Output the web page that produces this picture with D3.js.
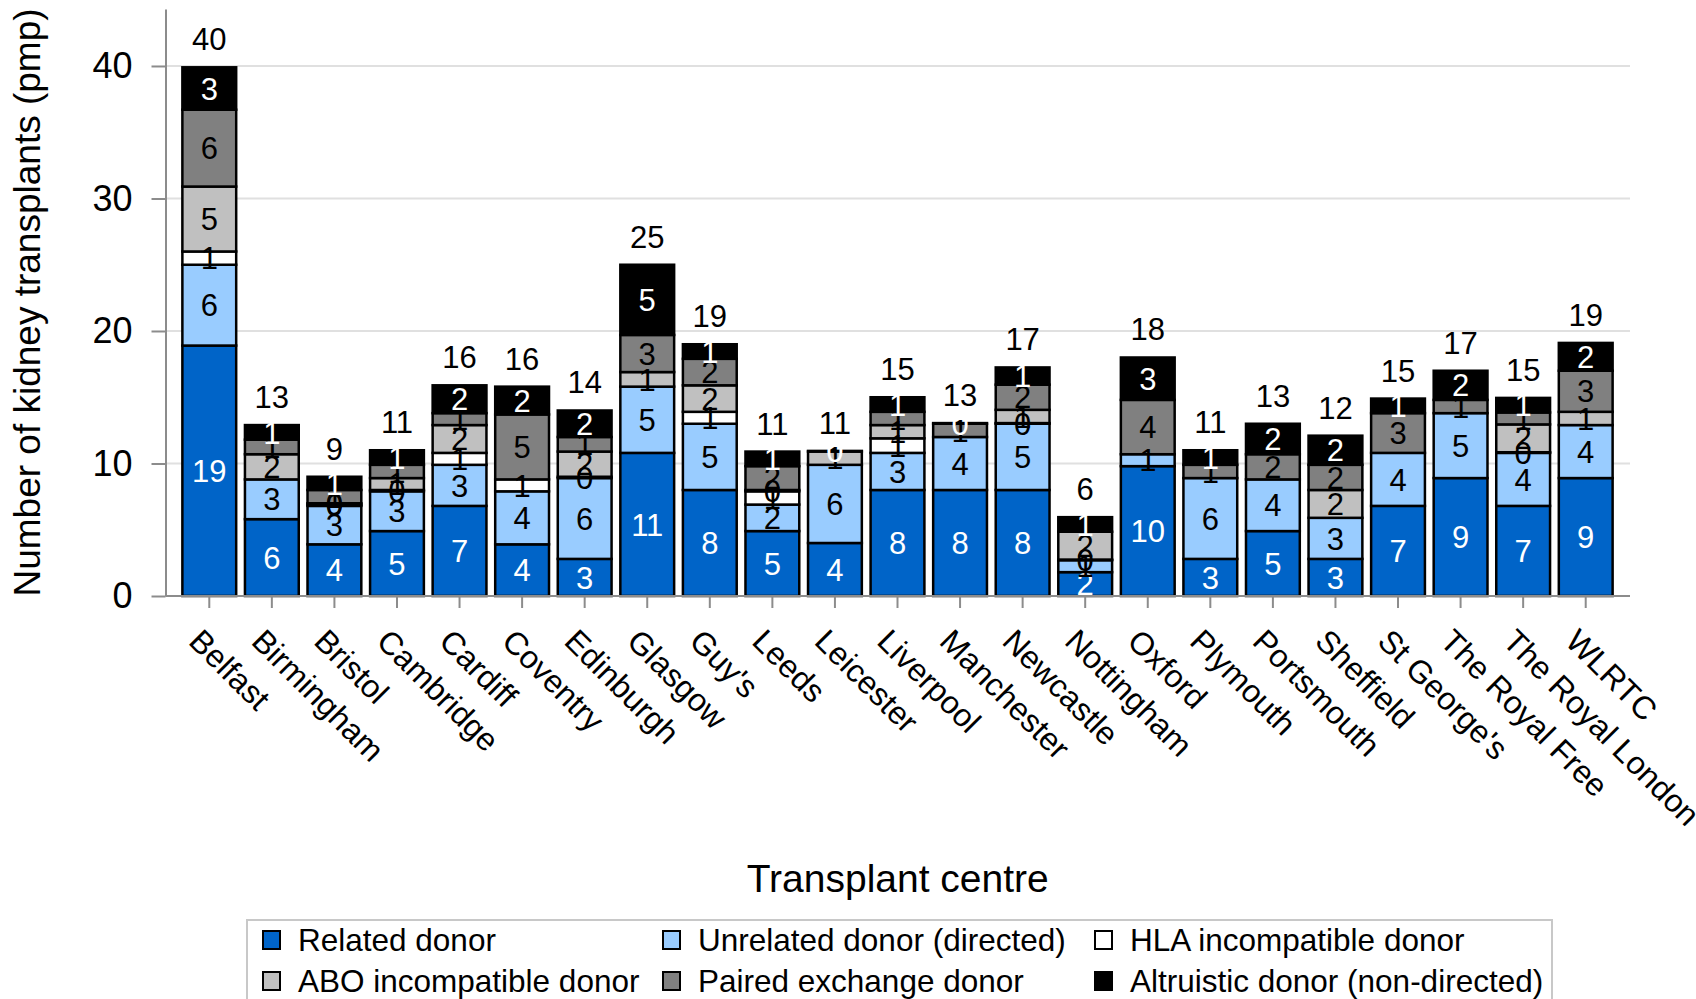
<!DOCTYPE html>
<html>
<meta charset="utf-8">
<head>
	<script src="https://d3js.org/d3.v7.min.js"></script>
	<style>
		body { margin: 0; background: #fff; }
		text { font-family: "Liberation Sans", Arial, sans-serif; }
		.grid line { stroke: #e0e0e0; stroke-width: 2px; }
		.axis path, .axis line { stroke: #8c8c8c; stroke-width: 2px; }
	</style>
</head>
<body>
<script>
	var width = 1696,
			height = 999;

	// centres and donor-type values (pmp)
	var centres = ["Belfast", "Birmingham", "Bristol", "Cambridge", "Cardiff", "Coventry", "Edinburgh",
		"Glasgow", "Guy's", "Leeds", "Leicester", "Liverpool", "Manchester", "Newcastle", "Nottingham",
		"Oxford", "Plymouth", "Portsmouth", "Sheffield", "St George's", "The Royal Free", "The Royal London", "WLRTC"];
	var related    = [18.9, 5.8, 3.9, 4.9, 6.8, 3.9, 2.8, 10.8, 8.0, 4.9, 4.0, 8.0, 8.0, 8.0, 1.8, 9.8, 2.8, 4.9, 2.8, 6.8, 8.9, 6.8, 8.9];
	var unrelated  = [6.1, 3.0, 2.9, 3.0, 3.1, 4.0, 6.1, 5.0, 5.0, 2.0, 5.9, 2.8, 4.0, 5.0, 0.9, 0.9, 6.1, 3.9, 3.1, 4.0, 4.9, 4.0, 4.0];
	var hla        = [1.0, 0, 0.1, 0.1, 0.9, 0.9, 0.1, 0, 0.9, 1.0, 0, 1.1, 0, 0.05, 0.05, 0, 0, 0, 0, 0, 0, 0.05, 0];
	var abo        = [4.9, 1.9, 0.1, 0.9, 2.1, 0, 1.9, 1.1, 2.0, 0.1, 1.0, 1.0, 0, 1.0, 2.1, 0, 0, 0, 2.1, 0, 0, 2.1, 1.0];
	var paired     = [5.8, 1.1, 1.0, 1.0, 0.9, 4.9, 1.1, 2.8, 2.0, 1.8, 0, 1.0, 1.0, 1.9, 0, 4.1, 1.0, 1.9, 1.9, 3.0, 1.0, 0.9, 3.1];
	var altruistic = [3.2, 1.1, 1.0, 1.1, 2.1, 2.1, 2.0, 5.3, 1.1, 1.1, 0.05, 1.1, 0.05, 1.3, 1.1, 3.2, 1.1, 2.3, 2.2, 1.1, 2.2, 1.1, 2.1];

	var seriesNames = ["Related donor", "Unrelated donor (directed)", "HLA incompatible donor",
		"ABO incompatible donor", "Paired exchange donor", "Altruistic donor (non-directed)"];
	var seriesKeys = ["related", "unrelated", "hla", "abo", "paired", "altruistic"];
	var seriesColors = ["#0064c8", "#99ccff", "#ffffff", "#c0c0c0", "#808080", "#000000"];
	var labelColors = ["#fff", "#000", "#000", "#000", "#000", "#fff"];
	var yTicks = [0, 10, 20, 30, 40];

	var rows = centres.map(function(c, i) {
		return {centre: c, related: related[i], unrelated: unrelated[i], hla: hla[i],
			abo: abo[i], paired: paired[i], altruistic: altruistic[i]};
	});
	var stacked = d3.stack().keys(seriesKeys)(rows);

	var x = d3.scaleBand().domain(centres).range([178, 1617]).paddingInner(0.14).paddingOuter(0.07);
	var y = d3.scaleLinear().domain([0, 44.3]).range([596, 9]);
	var left = 165.5, right = 1630;

	var svg = d3.select("body").append("svg")
		.attr("width", width)
		.attr("height", height);

	// gridlines
	svg.append("g").attr("class", "grid")
		.selectAll("line").data(yTicks.slice(1)).enter().append("line")
		.attr("x1", left).attr("x2", right)
		.attr("y1", function(d) { return y(d); })
		.attr("y2", function(d) { return y(d); });

	// bars
	var layer = svg.selectAll(".layer").data(stacked).enter().append("g")
		.attr("class", "layer")
		.attr("fill", function(d, i) { return seriesColors[i]; });
	layer.selectAll("rect").data(function(d) { return d; }).enter()
		.filter(function(d) { return d[1] - d[0] > 0; })
		.append("rect")
		.attr("x", function(d) { return x(d.data.centre); })
		.attr("width", x.bandwidth())
		.attr("y", function(d) { return y(d[1]); })
		.attr("height", function(d) { return y(d[0]) - y(d[1]); })
		.attr("stroke", "#000")
		.attr("stroke-width", 2.5);

	// segment labels
	stacked.forEach(function(s, si) {
		svg.append("g").selectAll("text").data(s).enter()
			.filter(function(d) { return d[1] - d[0] > 0; })
			.append("text")
			.attr("x", function(d) { return x(d.data.centre) + x.bandwidth() / 2; })
			.attr("y", function(d) { return (y(d[0]) + y(d[1])) / 2; })
			.attr("dy", "0.36em")
			.attr("text-anchor", "middle")
			.attr("font-size", 31)
			.attr("fill", labelColors[si])
			.text(function(d) { return Math.round(d[1] - d[0]); });
	});

	// totals
	svg.append("g").selectAll("text").data(rows).enter().append("text")
		.attr("x", function(d) { return x(d.centre) + x.bandwidth() / 2; })
		.attr("y", function(d) {
			return y(d.related + d.unrelated + d.hla + d.abo + d.paired + d.altruistic) - 17;
		})
		.attr("text-anchor", "middle")
		.attr("font-size", 31)
		.text(function(d) {
			return Math.round(d.related + d.unrelated + d.hla + d.abo + d.paired + d.altruistic);
		});

	// y axis
	var yAxis = svg.append("g").attr("class", "axis")
		.attr("transform", "translate(" + left + ",0)")
		.call(d3.axisLeft(y).tickValues(yTicks).tickSize(14).tickSizeOuter(0).tickPadding(19));
	yAxis.selectAll("text").attr("font-size", 36).attr("fill", "#000");

	// x axis
	var xAxis = svg.append("g").attr("class", "axis")
		.attr("transform", "translate(0," + y(0) + ")")
		.call(d3.axisBottom(x).tickSize(12).tickSizeOuter(0));
	xAxis.select(".domain").attr("d", "M" + left + ",0H" + right);
	xAxis.selectAll("text")
		.attr("font-size", 32)
		.attr("fill", "#000")
		.attr("text-anchor", "start")
		.attr("transform", "translate(-5,30) rotate(45)")
		.attr("x", 0).attr("y", 0).attr("dy", "0.75em");

	// axis titles
	svg.append("text")
		.attr("transform", "translate(40," + (y(0) + y(44.3)) / 2 + ") rotate(-90)")
		.attr("text-anchor", "middle")
		.attr("font-size", 37)
		.text("Number of kidney transplants (pmp)");
	svg.append("text")
		.attr("x", (left + right) / 2)
		.attr("y", 892)
		.attr("text-anchor", "middle")
		.attr("font-size", 39)
		.text("Transplant centre");

	// legend
	var legend = svg.append("g");
	legend.append("rect")
		.attr("x", 247).attr("y", 920).attr("width", 1305).attr("height", 100)
		.attr("fill", "#fff").attr("stroke", "#c8c8c8").attr("stroke-width", 2);
	var legX = [263, 663, 1095], legY = [940, 981];
	var item = legend.selectAll(".item").data(seriesNames).enter().append("g")
		.attr("transform", function(d, i) {
			return "translate(" + legX[i % 3] + "," + legY[Math.floor(i / 3)] + ")";
		});
	item.append("rect")
		.attr("x", 0).attr("y", -9).attr("width", 17).attr("height", 18)
		.attr("fill", function(d, i) { return seriesColors[i]; })
		.attr("stroke", "#000").attr("stroke-width", 2);
	item.append("text")
		.attr("x", 35).attr("dy", "0.36em")
		.attr("font-size", 31.5)
		.text(function(d) { return d; });
</script>
</body>
</html>
